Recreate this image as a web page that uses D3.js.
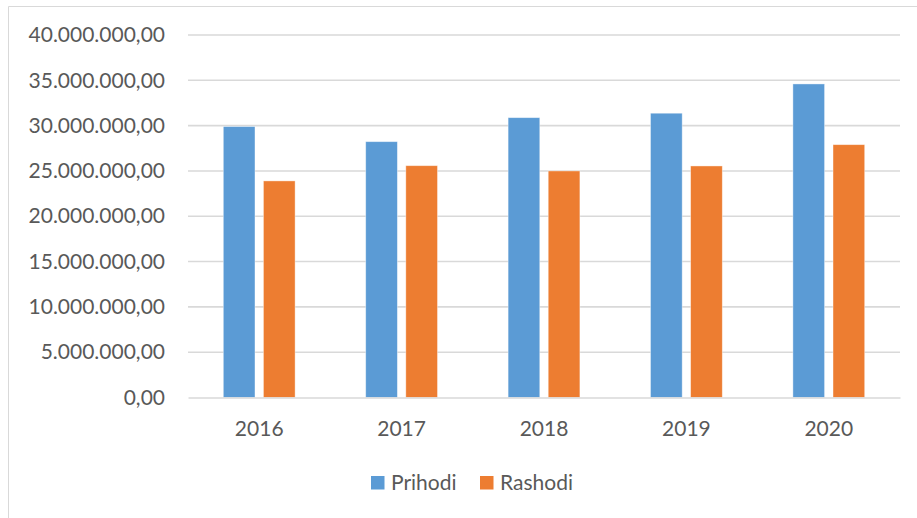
<!DOCTYPE html>
<html>
<head>
<meta charset="utf-8">
<script src="https://cdn.jsdelivr.net/npm/d3@7"></script>
<style>
  body { margin: 0; background: #fff; }
  text { font-family: Lato, "Open Sans", sans-serif; fill: #595959; }
</style>
</head>
<body>
<div id="chart"></div>
<script>
// data
const years = ['2016', '2017', '2018', '2019', '2020'];
const seriesNames = ['Prihodi', 'Rashodi'];
const prihodi = [29900000, 28230000, 30880000, 31370000, 34600000];
const rashodi = [23900000, 25580000, 25000000, 25550000, 27900000];
const yTicks = [0, 5000000, 10000000, 15000000, 20000000, 25000000, 30000000, 35000000, 40000000];
const colors = ['#5b9bd5', '#ed7d31'];

const W = 917, H = 518;
const plot = { left: 188, right: 900, top: 35, bottom: 397.5 };

const svg = d3.select('#chart').append('svg')
  .attr('width', W)
  .attr('height', H);

// outer chart border (only left/top visible in the crop)
svg.append('path')
  .attr('d', 'M8.5,' + H + 'V6.5H' + W)
  .attr('fill', 'none')
  .attr('stroke', '#d9d9d9')
  .attr('stroke-width', 1);

const x0 = d3.scaleBand()
  .domain(years)
  .range([plot.left, plot.right]);

const x1 = d3.scaleBand()
  .domain(seriesNames)
  .range([35.3, x0.bandwidth() - 35.3])
  .paddingInner(0.21);

const y = d3.scaleLinear()
  .domain([0, 40000000])
  .range([plot.bottom, plot.top]);

const fmt = v => {
  const s = d3.format(',.2f')(v);
  return s.replace(/,/g, '#').replace('.', ',').replace(/#/g, '.');
};

// gridlines
svg.append('g')
  .selectAll('line')
  .data(yTicks.slice(1))
  .enter()
  .append('line')
  .attr('x1', plot.left)
  .attr('x2', plot.right)
  .attr('y1', d => y(d))
  .attr('y2', d => y(d))
  .attr('stroke', '#d9d9d9')
  .attr('stroke-width', 1.6);

// y axis labels
const yAxis = svg.append('g')
  .attr('transform', 'translate(' + (plot.left - 23) + ',0)')
  .call(d3.axisLeft(y).tickValues(yTicks).tickFormat(fmt).tickSize(0).tickPadding(0));
yAxis.select('.domain').remove();
yAxis.selectAll('text')
  .style('font-size', '21px')
  .attr('fill', '#595959');

// bars
const data = years.map((yr, i) => ({ year: yr, values: [prihodi[i], rashodi[i]] }));
const groups = svg.append('g')
  .selectAll('g')
  .data(data)
  .enter()
  .append('g')
  .attr('transform', d => 'translate(' + x0(d.year) + ',0)');

groups.selectAll('rect')
  .data(d => d.values.map((v, k) => ({ name: seriesNames[k], value: v, k: k })))
  .enter()
  .append('rect')
  .attr('x', d => x1(d.name))
  .attr('width', x1.bandwidth())
  .attr('y', d => y(d.value))
  .attr('height', d => y(0) - y(d.value))
  .attr('fill', d => colors[d.k])
  .attr('stroke', '#fff')
  .attr('stroke-opacity', 0.5)
  .attr('stroke-width', 0.8);

// x axis
const xAxis = svg.append('g')
  .attr('transform', 'translate(0,' + plot.bottom + ')')
  .call(d3.axisBottom(x0).tickSize(0).tickPadding(24));
xAxis.select('.domain')
  .attr('stroke', '#d9d9d9')
  .attr('stroke-width', 1.6);
xAxis.selectAll('text')
  .style('font-size', '21px')
  .attr('fill', '#595959');

// legend
const legendX = [371, 480];
const legend = svg.append('g')
  .selectAll('g')
  .data(seriesNames)
  .enter()
  .append('g')
  .attr('transform', (d, i) => 'translate(' + legendX[i] + ',476)');
legend.append('rect')
  .attr('width', 13.5)
  .attr('height', 13.5)
  .attr('fill', (d, i) => colors[i]);
legend.append('text')
  .attr('x', 20)
  .attr('y', 14)
  .style('font-size', '21px')
  .text(d => d);
</script>
</body>
</html>
